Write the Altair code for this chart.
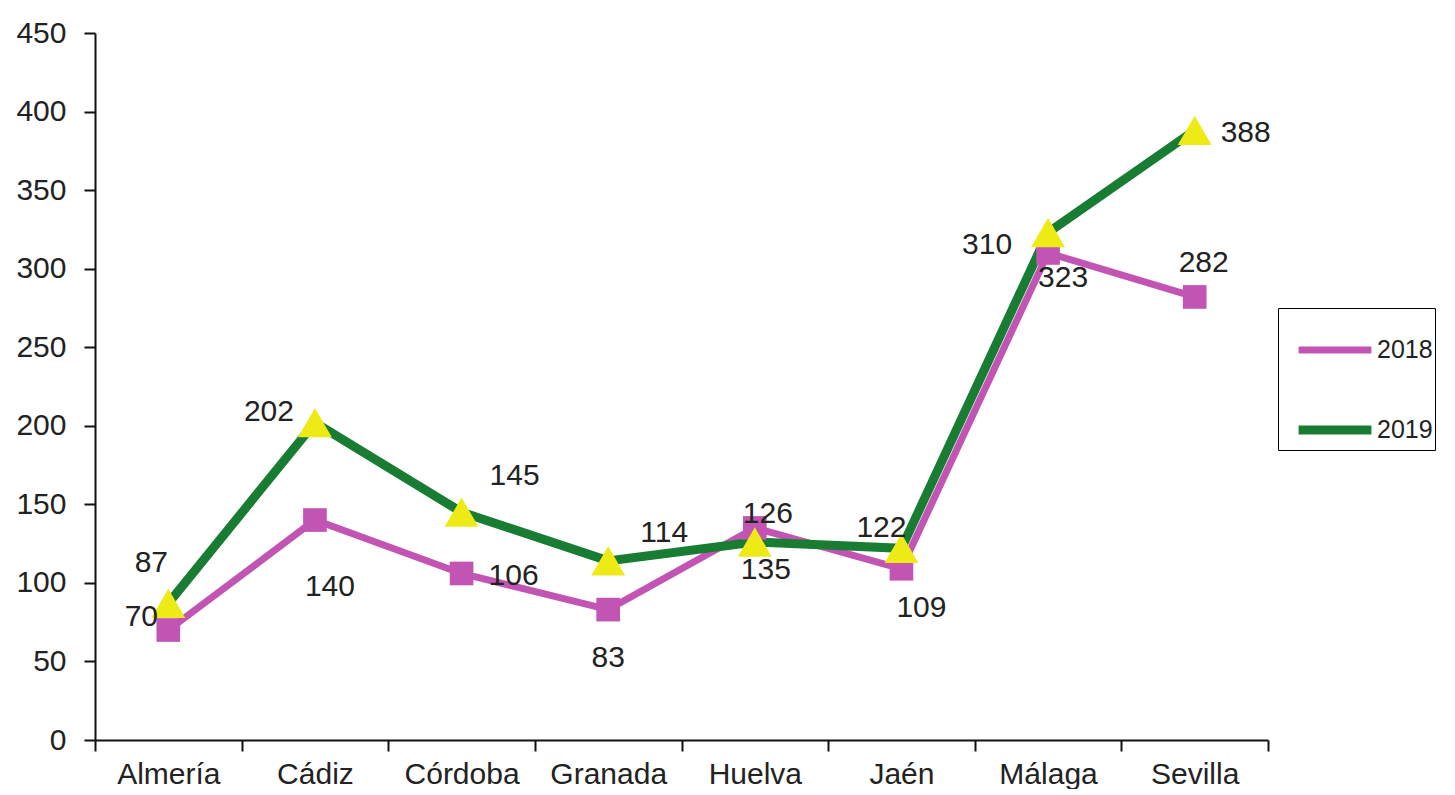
import altair as alt
import pandas as pd

provinces = ["Almería", "Cádiz", "Córdoba", "Granada", "Huelva", "Jaén", "Málaga", "Sevilla"]
series = ["2018", "2019"]
v2018 = [70, 140, 106, 83, 135, 109, 310, 282]
v2019 = [87, 202, 145, 114, 126, 122, 323, 388]
y_ticks = [0, 50, 100, 150, 200, 250, 300, 350, 400, 450]

rows = []
for i, p in enumerate(provinces):
    rows.append({"prov": p, "serie": "2018", "v": v2018[i]})
    rows.append({"prov": p, "serie": "2019", "v": v2019[i]})
df = pd.DataFrame(rows)

MAG = "#C254B4"
GRN = "#187C32"
YEL = "#EEEA16"
FONT = "Liberation Sans"
TXT = "#222222"

# label offsets (pixels) relative to each point, per series
off_2018 = [(-27, -13), (15, 67), (52, 3), (0, 48), (11, 42), (20, 39), (-61, -8), (9, -34)]
off_2019 = [(-17, -40), (-46, -11), (53, -36), (56, -28), (13, -28), (-20, -20), (15, 45), (51, 3)]

x_enc = alt.X(
    "prov:N",
    sort=provinces,
    scale=alt.Scale(type="band", domain=provinces, paddingInner=0, paddingOuter=0),
    axis=alt.Axis(title=None, labelAngle=0, tickBand="extent", grid=False, labelPadding=8),
)
y_enc = alt.Y(
    "v:Q",
    scale=alt.Scale(domain=[0, 450], nice=False, zero=True),
    axis=alt.Axis(title=None, values=y_ticks, grid=False, labelPadding=18),
)

base = alt.Chart(df)

lines = base.mark_line().encode(
    x=x_enc,
    y=y_enc,
    color=alt.Color(
        "serie:N",
        scale=alt.Scale(domain=series, range=[MAG, GRN]),
        legend=alt.Legend(
            title=None,
            orient="none",
            legendX=1183,
            legendY=275,
            direction="vertical",
            strokeColor="black",
            fillColor="white",
            padding=2,
            symbolOffset=14,
            symbolType="stroke",
            symbolSize=5300,
            symbolStrokeWidth=7,
            labelFont=FONT,
            labelFontSize=25,
            labelColor=TXT,
            labelOffset=1,
            rowPadding=25,
        ),
    ),
    strokeWidth=alt.StrokeWidth(
        "serie:N", scale=alt.Scale(domain=series, range=[7, 9]), legend=None
    ),
)

squares = base.transform_filter(alt.datum.serie == "2018").mark_point(
    shape="square", filled=True, size=560, color=MAG, opacity=1
).encode(x=x_enc, y=y_enc)

triangles = base.transform_filter(alt.datum.serie == "2019").mark_point(
    shape="triangle-up", filled=True, size=1150, color=YEL, opacity=1
).encode(x=x_enc, y=y_enc)

layers = [lines, squares, triangles]
for s, offs in (("2018", off_2018), ("2019", off_2019)):
    for p, (dx, dy) in zip(provinces, offs):
        layers.append(
            base.transform_filter(
                (alt.datum.serie == s) & (alt.datum.prov == p)
            ).mark_text(
                dx=dx, dy=dy, font=FONT, fontSize=30, color=TXT,
                align="center", baseline="middle",
            ).encode(x=x_enc, y=y_enc, text="v:Q")
        )

chart = alt.layer(*layers).properties(
    width=1173,
    height=707,
    padding={"left": 87, "top": 25, "right": 179, "bottom": 49},
    autosize=alt.AutoSizeParams(type="none"),
).configure_view(stroke=None).configure_axis(
    labelFont=FONT,
    labelFontSize=30,
    labelColor=TXT,
    domainColor="#111111",
    domainWidth=2,
    tickColor="#111111",
    tickWidth=2,
    tickSize=11,
)

chart.save("out.html", embed_options={"renderer": "svg", "actions": False})
